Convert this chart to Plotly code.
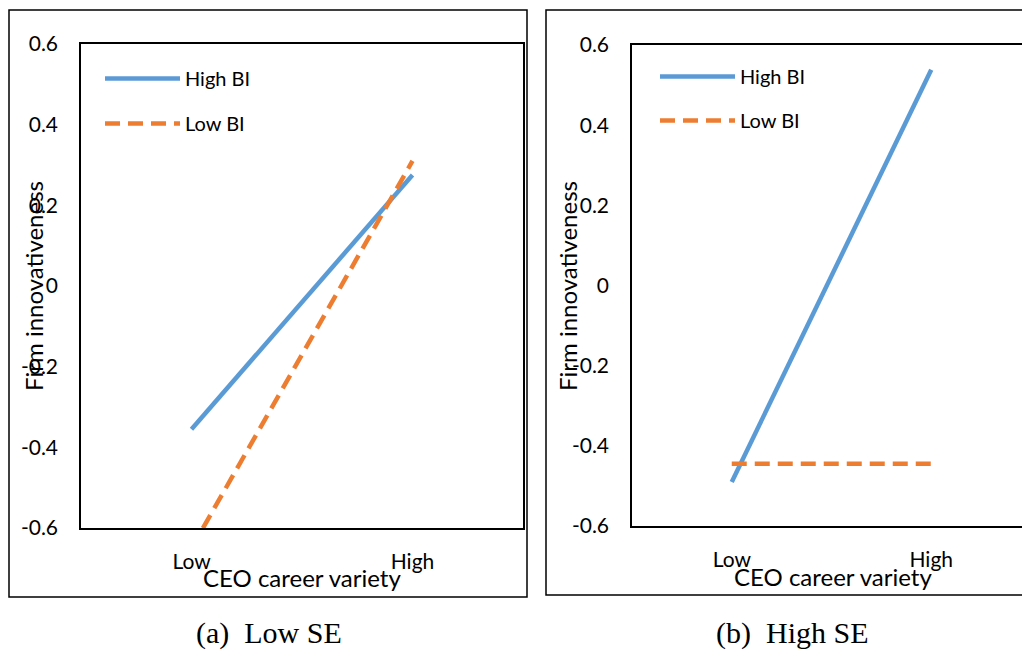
import plotly.graph_objects as go

categories = ["Low", "High"]
low_se_high_bi = [-0.355, 0.275]
low_se_low_bi = [-0.65, 0.31]
high_se_high_bi = [-0.49, 0.538]
high_se_low_bi = [-0.445, -0.445]
y_ticks = [-0.6, -0.4, -0.2, 0, 0.2, 0.4, 0.6]
y_tick_text = ["-0.6", "-0.4", "-0.2", "0", "0.2", "0.4", "0.6"]

# page body has an 8px margin; compensate so the picture lines up with the reference
OFF = 8
W, H = 1030, 652 - OFF
BLUE = "#5B9BD5"
ORANGE = "#ED7D31"
FONT = "Lato"
NB = "\u00a0"


def px(x):
    return (x - OFF) / W


def py(y):
    return 1 - (y - OFF) / H


fig = go.Figure()

fig.add_trace(go.Scatter(x=categories, y=low_se_high_bi, mode="lines", name="High BI", legendgroup="a1",
                         line=dict(color=BLUE, width=4.5), xaxis="x", yaxis="y", legend="legend"))
fig.add_trace(go.Scatter(x=categories, y=low_se_low_bi, mode="lines", name="Low BI", legendgroup="a2",
                         line=dict(color=ORANGE, width=4.5, dash="15px,8px"), xaxis="x", yaxis="y", legend="legend"))
fig.add_trace(go.Scatter(x=categories, y=high_se_high_bi, mode="lines", name="High BI", legendgroup="b1",
                         line=dict(color=BLUE, width=4.5), xaxis="x2", yaxis="y2", legend="legend2"))
fig.add_trace(go.Scatter(x=categories, y=high_se_low_bi, mode="lines", name="Low BI", legendgroup="b2",
                         line=dict(color=ORANGE, width=4.5, dash="15px,8px"), xaxis="x2", yaxis="y2", legend="legend2"))

axis_font = dict(family=FONT, size=21, color="black")
common_x = dict(type="category", range=[-0.5, 1.5], showgrid=False, zeroline=False, automargin=False,
                showline=True, linecolor="black", linewidth=1.5, ticks="",
                tickfont=axis_font, ticklabelstandoff=14, fixedrange=True)
common_y = dict(range=[-0.6, 0.6], tickvals=y_ticks, ticktext=y_tick_text, showgrid=False, automargin=False,
                zeroline=False, showline=True, linecolor="black", linewidth=1.5, ticks="",
                tickfont=axis_font, ticklabelstandoff=17, fixedrange=True)

legend_common = dict(xanchor="left", yanchor="top", bgcolor="rgba(0,0,0,0)",
                     font=dict(family=FONT, size=20, color="black"), itemwidth=75)

fig.update_layout(
    template="none",
    width=W, height=H, margin=dict(l=0, r=0, t=0, b=0, autoexpand=False),
    paper_bgcolor="white", plot_bgcolor="white",
    xaxis=dict(common_x, domain=[px(81), px(523)], anchor="y", mirror=True),
    yaxis=dict(common_y, domain=[py(528), py(44)], anchor="x", mirror=True),
    xaxis2=dict(common_x, domain=[px(632), px(1031)], anchor="y2", mirror=True),
    yaxis2=dict(common_y, domain=[py(526), py(45)], anchor="x2", mirror=False),
    legend=dict(legend_common, x=px(100), y=py(59), tracegroupgap=16),
    legend2=dict(legend_common, x=px(655), y=py(57), tracegroupgap=15),
    showlegend=True,
)

shapes = [
    dict(type="rect", xref="paper", yref="paper", x0=px(9), x1=px(527), y0=py(597), y1=py(10),
         line=dict(color="black", width=1.5)),
    dict(type="rect", xref="paper", yref="paper", x0=px(546), x1=px(1045), y0=py(595), y1=py(10),
         line=dict(color="black", width=1.5)),
]
fig.update_layout(shapes=shapes)

title_font = dict(family=FONT, size=24, color="black")
cap_font = dict(family="Liberation Serif", size=30, color="black")
annotations = [
    dict(text="Firm innovativeness", x=px(33), y=py(286), textangle=-90, font=title_font),
    dict(text="Firm innovativeness", x=px(567), y=py(286), textangle=-90, font=title_font),
    dict(text="CEO career variety", x=px(302), y=py(577), font=title_font),
    dict(text="CEO career variety", x=px(833), y=py(576), font=title_font),
    dict(text="(a)" + NB + " Low SE", x=px(269), y=py(633), font=cap_font),
    dict(text="(b)" + NB + " High SE", x=px(792), y=py(633), font=cap_font),
]
for a in annotations:
    a.update(xref="paper", yref="paper", showarrow=False, xanchor="center", yanchor="middle")
fig.update_layout(annotations=annotations)

fig.write_html("out.html")
